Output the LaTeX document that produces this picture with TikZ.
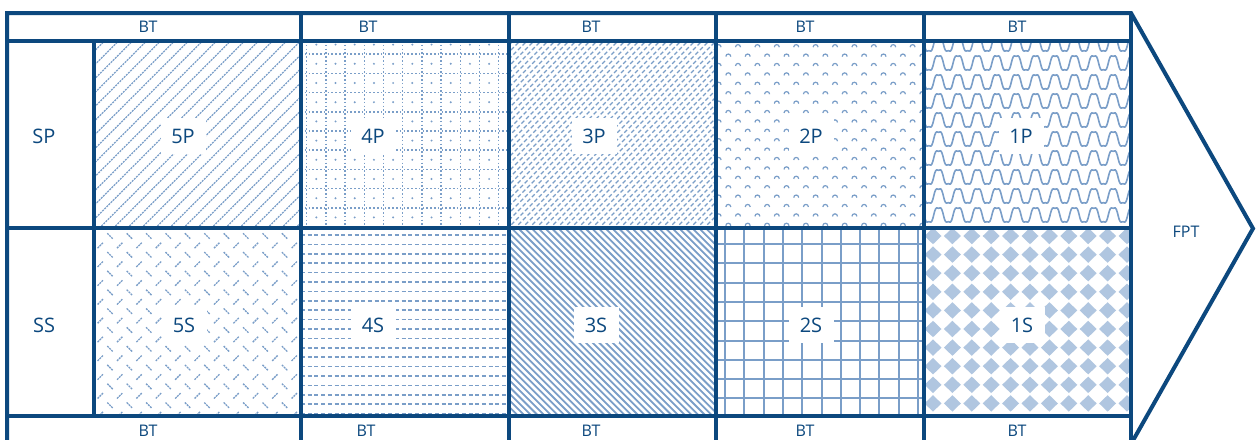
\documentclass[tikz,border=0pt]{standalone}
\usepackage{fontspec}
\setmainfont{Open Sans}
\definecolor{frame}{RGB}{12,72,126}
\definecolor{pat}{RGB}{122,158,200}
\definecolor{patlight}{RGB}{176,198,224}
\begin{document}
\begin{tikzpicture}[x=1pt,y=-1pt,
  fr/.style={draw=frame,line width=4pt,line join=miter},
  pl/.style={draw=pat,line width=1.3pt},
  btlab/.style={text=frame,font=\fontsize{16}{16}\selectfont,inner sep=0pt},
  rowlab/.style={text=frame,font=\fontsize{20}{20}\selectfont,inner sep=0pt},
  celllab/.style={text=frame,font=\fontsize{20}{20}\selectfont,fill=white,minimum width=45pt,minimum height=36pt,inner sep=0pt}]
\useasboundingbox (0,0) rectangle (1258,439);
\fill[white] (0,0) rectangle (1258,439);

% 5P: dotted diagonal lines /
\begin{scope}
\clip (93.5,41) rectangle (301,228);
\foreach \c in {0,14,...,420} \draw[pl,dash pattern=on 2pt off 1pt] (93.5+\c,38) -- ++(-200,200);
\end{scope}

% 4P: dotted grid with centre dots
\begin{scope}
\clip (301,41) rectangle (509,228);
\foreach \i in {0,...,11} \draw[pl,line width=1.5pt,dash pattern=on 1.6pt off 2.2pt] (306.7+19.2*\i,41) -- ++(0,190);
\foreach \i in {0,...,10} \draw[pl,line width=1.5pt,dash pattern=on 1.6pt off 2.2pt] (301,35+19.2*\i) -- ++(210,0);
\foreach \i in {0,...,10} \foreach \j in {0,...,9} \fill[pat] (316.3+19.2*\i,44.6+19.2*\j) circle (1.1pt);
\end{scope}

% 3P: dense dashed diagonals /
\begin{scope}
\clip (509,41) rectangle (716,228);
\foreach \c in {0,7,...,400} \draw[pl,line width=1.3pt,dash pattern=on 4pt off 2.5pt] (509+\c,38) -- ++(-200,200);
\end{scope}

% 2P: small carets
\begin{scope}
\clip (716,41) rectangle (924,228);
\foreach \k in {0,...,20} {
  \pgfmathsetmacro\yy{46+9.4*\k}
  \pgfmathsetmacro\off{mod(\k,2)*9.7}
  \foreach \j in {-1,...,11} {
    \pgfmathsetmacro\xx{738-19.4+19.4*\j-\off}
    \draw[pl,line width=1.2pt] (\xx-2.5,\yy+1.2) .. controls (\xx-2.5,\yy-2.2) and (\xx+2.5,\yy-2.2) .. (\xx+2.5,\yy+1.2);
  }
}
\end{scope}

% 1P: meander-like waves
\begin{scope}
\clip (924,41) rectangle (1131,228);
\foreach \r in {0,...,10} {
  \pgfmathsetmacro\yy{44+19*\r}
  \draw[pl,line width=1.6pt] plot[domain=920:1135,samples=220,smooth] (\x,{\yy+8.2*(sin(18.557*(\x-924))+0.18*sin(55.67*(\x-924)))});
}
\end{scope}

% 5S: alternating short dashes
\begin{scope}
\clip (93.5,228) rectangle (301,416);
\foreach \k in {0,...,20} {
  \pgfmathsetmacro\yy{236+9.4*\k}
  \pgfmathsetmacro\off{mod(\k,2)*9.7}
  \foreach \j in {-1,...,11} {
    \pgfmathsetmacro\xx{110+19.4*\j-\off}
    \ifodd\k
      \draw[pl,line width=1.3pt,dash pattern=on 2pt off 0.8pt] (\xx-2.7,\yy+2.7) -- (\xx+2.7,\yy-2.7);
    \else
      \draw[pl,line width=1.3pt,dash pattern=on 2pt off 0.8pt] (\xx-2.7,\yy-2.7) -- (\xx+2.7,\yy+2.7);
    \fi
  }
}
\end{scope}

% 4S: dashed horizontal lines
\begin{scope}
\clip (301,228) rectangle (509,416);
\foreach \k in {0,...,20} \draw[pl,line width=1.5pt,dash pattern=on 4pt off 2.7pt] (301,235+9.4*\k) -- ++(210,0);
\end{scope}

% 3S: dense diagonals \
\begin{scope}
\clip (509,228) rectangle (716,416);
\foreach \c in {0,6.7,...,400} \draw[pl,line width=1.8pt] (509-195+\c,225) -- ++(200,200);
\end{scope}

% 2S: grid
\begin{scope}
\clip (716,228) rectangle (924,416);
\foreach \i in {0,...,10} \draw[pat,line width=2pt] (725+19.3*\i,228) -- ++(0,190);
\foreach \i in {0,...,9} \draw[pat,line width=2pt] (716,244+19.3*\i) -- ++(210,0);
\end{scope}

% 1S: diamonds
\begin{scope}
\clip (924,228) rectangle (1131,416);
\foreach \i in {0,...,10} \foreach \j in {0,...,9}
  \fill[patlight] (933+19.4*\i,236+18.6*\j) ++(-8.5,0) -- ++(8.5,-8.2) -- ++(8.5,8.2) -- ++(-8.5,8.2) -- cycle;
\end{scope}

% frame
\draw[fr] (7,13) -- (1131,13) -- (1253,228.5) -- (1131,444) -- (7,444) -- cycle;
\draw[fr] (7,41) -- (1131,41);
\draw[fr] (7,228) -- (1131,228);
\draw[fr] (7,416) -- (1131,416);
\draw[fr] (93.5,41) -- (93.5,416);
\foreach \x in {301,509,716,924,1131} \draw[fr] (\x,13) -- (\x,444);

% labels
\node[btlab] (bt1) at (148,27) {BT};
\node[btlab] (bt2) at (368,27) {BT};
\node[btlab] (bt3) at (591,27) {BT};
\node[btlab] (bt4) at (805,27) {BT};
\node[btlab] (bt5) at (1017,27) {BT};
\node[btlab] (bb1) at (148,431) {BT};
\node[btlab] (bb2) at (366,431) {BT};
\node[btlab] (bb3) at (591,431) {BT};
\node[btlab] (bb4) at (805,431) {BT};
\node[btlab] (bb5) at (1017,431) {BT};
\node[btlab] (fpt) at (1186,232) {FPT};
\node[rowlab] (sp) at (44,136) {SP};
\node[rowlab] (ss) at (44,325) {SS};
\node[celllab] (p5) at (183,136) {5P};
\node[celllab] (p4) at (373,136) {4P};
\node[celllab] (p3) at (594,136) {3P};
\node[celllab] (p2) at (811,136) {2P};
\node[celllab] (p1) at (1021,136) {1P};
\node[celllab] (s5) at (184,325) {5S};
\node[celllab] (s4) at (373,325) {4S};
\node[celllab] (s3) at (596,325) {3S};
\node[celllab] (s2) at (811,325) {2S};
\node[celllab] (s1) at (1022,325) {1S};
\end{tikzpicture}
\end{document}
